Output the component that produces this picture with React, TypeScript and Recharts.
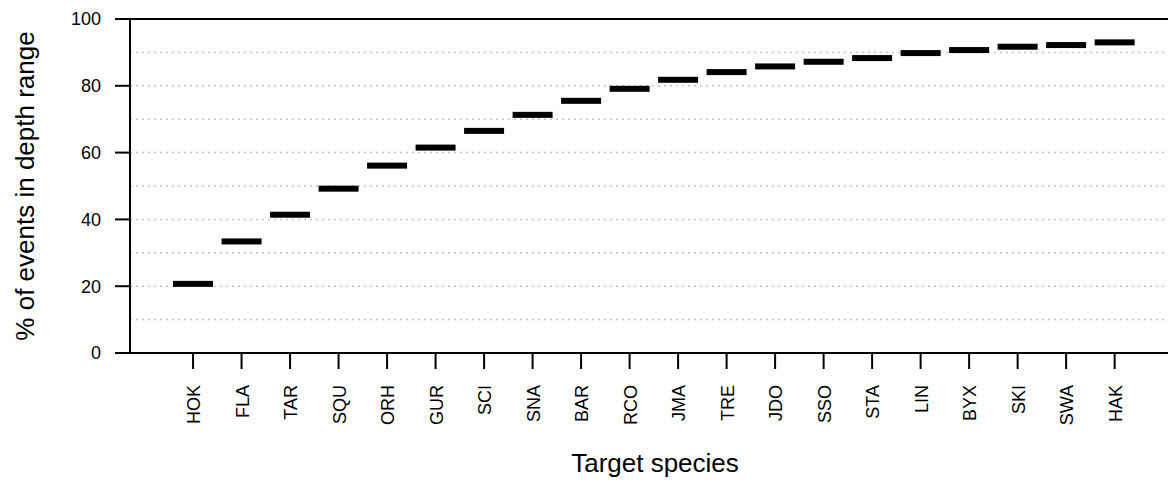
import React from 'react';
import { ComposedChart, Scatter, XAxis, YAxis, ReferenceLine } from 'recharts';

const species = ['HOK', 'FLA', 'TAR', 'SQU', 'ORH', 'GUR', 'SCI', 'SNA', 'BAR', 'RCO', 'JMA', 'TRE', 'JDO', 'SSO', 'STA', 'LIN', 'BYX', 'SKI', 'SWA', 'HAK'];
const pctInRange = [20.7, 33.4, 41.4, 49.2, 56.1, 61.5, 66.5, 71.3, 75.5, 79.1, 81.8, 84.1, 85.8, 87.2, 88.3, 89.8, 90.7, 91.7, 92.2, 93.0];
const yTicks = [0, 20, 40, 60, 80, 100];
const gridValues = [10, 20, 30, 40, 50, 60, 70, 80, 90];

const data = species.map((s, i) => ({ x: i + 1, name: s, pct: pctInRange[i] }));
const xTicks = data.map((d) => d.x);

const FONT = '"Liberation Sans", Arial, sans-serif';

const SegmentShape = (props: any) => {
  const { cx, cy } = props;
  if (cx == null || cy == null) return null;
  return <rect x={cx - 20} y={cy - 3} width={40} height={6} fill="#000" />;
};

const XTick = (props: any) => {
  const { x, y, payload } = props;
  const label = species[payload.value - 1] ?? '';
  return (
    <text
      x={x + 7}
      y={y + 14}
      transform={`rotate(-90, ${x + 7}, ${y + 14})`}
      textAnchor="end"
      fontFamily={FONT}
      fontSize={18}
      fill="#000"
    >
      {label}
    </text>
  );
};

const YLabel = (props: any) => {
  const vb = props.viewBox || {};
  const cy = vb.y + vb.height / 2;
  return (
    <text
      x={34}
      y={cy}
      transform={`rotate(-90, 34, ${cy})`}
      textAnchor="middle"
      fontFamily={FONT}
      fontSize={26}
      fill="#000"
    >
      % of events in depth range
    </text>
  );
};

const XLabel = (props: any) => {
  const vb = props.viewBox || {};
  const cx = vb.x + vb.width / 2 + 6;
  return (
    <text x={cx} y={472} textAnchor="middle" fontFamily={FONT} fontSize={26} fill="#000">
      Target species
    </text>
  );
};

export default function App() {
  return (
    <div style={{ position: 'absolute', left: 0, top: 0, width: 1168, height: 480, background: '#fff', overflow: 'hidden' }}>
      <ComposedChart width={1168} height={480} data={data} margin={{ top: 19, right: 0, bottom: 0, left: 0 }}>
        {gridValues.map((g) => (
          <ReferenceLine key={g} y={g} stroke="#c4c4c4" strokeWidth={1.5} strokeDasharray="2 4" />
        ))}
        <ReferenceLine y={100} stroke="#000" strokeWidth={2} />
        <XAxis
          type="number"
          dataKey="x"
          domain={[-0.3, 21.1]}
          ticks={xTicks}
          allowDataOverflow
          height={127}
          axisLine={{ stroke: '#000', strokeWidth: 2 }}
          tickLine={{ stroke: '#000', strokeWidth: 2 }}
          tickSize={16}
          tick={<XTick />}
          interval={0}
          label={<XLabel />}
        />
        <YAxis
          type="number"
          dataKey="pct"
          domain={[0, 100]}
          ticks={yTicks}
          width={130}
          allowDataOverflow
          axisLine={{ stroke: '#000', strokeWidth: 2 }}
          tickLine={{ stroke: '#000', strokeWidth: 2 }}
          tickSize={15}
          tickMargin={14}
          tick={{ fontFamily: FONT, fontSize: 18, fill: '#000' }}
          label={<YLabel />}
        />
        <Scatter dataKey="pct" shape={<SegmentShape />} isAnimationActive={false} />
      </ComposedChart>
    </div>
  );
}
